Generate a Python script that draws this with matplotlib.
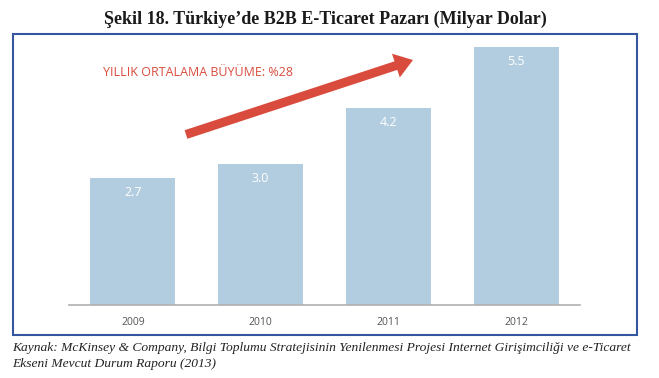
import matplotlib.pyplot as plt
import matplotlib.patches as mpatches

# Türkiye B2B e-ticaret pazarı (milyar dolar)
years = ["2009", "2010", "2011", "2012"]
values = [2.7, 3.0, 4.2, 5.5]
value_labels = ["2.7", "3.0", "4.2", "5.5"]

bar_color = "#b3cde0"
red = "#d94c3d"
frame_color = "#3657a0"

fig = plt.figure(figsize=(6.59, 3.78), dpi=100)

# overlay in pixel coordinates for frame, arrow and texts
ov = fig.add_axes([0, 0, 1, 1])
ov.set_xlim(0, 659)
ov.set_ylim(378, 0)
ov.axis("off")

ov.add_patch(mpatches.Rectangle((13, 34), 624, 301, fill=False,
                                edgecolor=frame_color, linewidth=1.5))

ov.text(325, 19, "Şekil 18. Türkiye’de B2B E-Ticaret Pazarı (Milyar Dolar)",
        ha="center", va="center", fontsize=13, fontweight="bold",
        family="Liberation Serif", color="#1a1a1a")

ov.text(12, 348, "Kaynak: McKinsey & Company, Bilgi Toplumu Stratejisinin Yenilenmesi Projesi "
        "Internet Girişimciliği ve e-Ticaret", ha="left", va="center", fontsize=9.7,
        style="italic", family="Liberation Serif", color="#222222")
ov.text(12, 364, "Ekseni Mevcut Durum Raporu (2013)", ha="left", va="center",
        fontsize=9.7, style="italic", family="Liberation Serif", color="#222222")

# chart axes
ax = fig.add_axes([69 / 659, 73 / 378, 511 / 659, 6 * 47 / 378])
ax.bar(range(len(years)), values, width=0.665, color=bar_color, zorder=2)
for i, (v, lab) in enumerate(zip(values, value_labels)):
    ax.text(i, v - 0.31, lab, ha="center", va="center", color="white",
            fontsize=9, family="Open Sans")
ax.set_xlim(-0.5, 3.5)
ax.set_ylim(0, 6)
ax.set_xticks(range(len(years)))
ax.set_xticklabels(years, fontsize=7.5, color="#555555", family="Open Sans")
ax.tick_params(axis="x", length=0, pad=8.5)
ax.set_yticks([])
for s in ["top", "right", "left"]:
    ax.spines[s].set_visible(False)
ax.spines["bottom"].set_color("#b0b0b0")
ax.spines["bottom"].set_linewidth(1.2)
ax.patch.set_alpha(0)

# growth arrow and label
ov.set_zorder(3)
ov.add_patch(mpatches.FancyArrow(186, 134.5, 227, -74.5, width=9, head_width=25,
                                 head_length=18, length_includes_head=True,
                                 color=red, linewidth=0))
ov.text(103, 72, "YILLIK ORTALAMA BÜYÜME: %28", ha="left", va="center",
        fontsize=9, color=red, family="Open Sans")

fig.savefig("out.png", dpi=100)
